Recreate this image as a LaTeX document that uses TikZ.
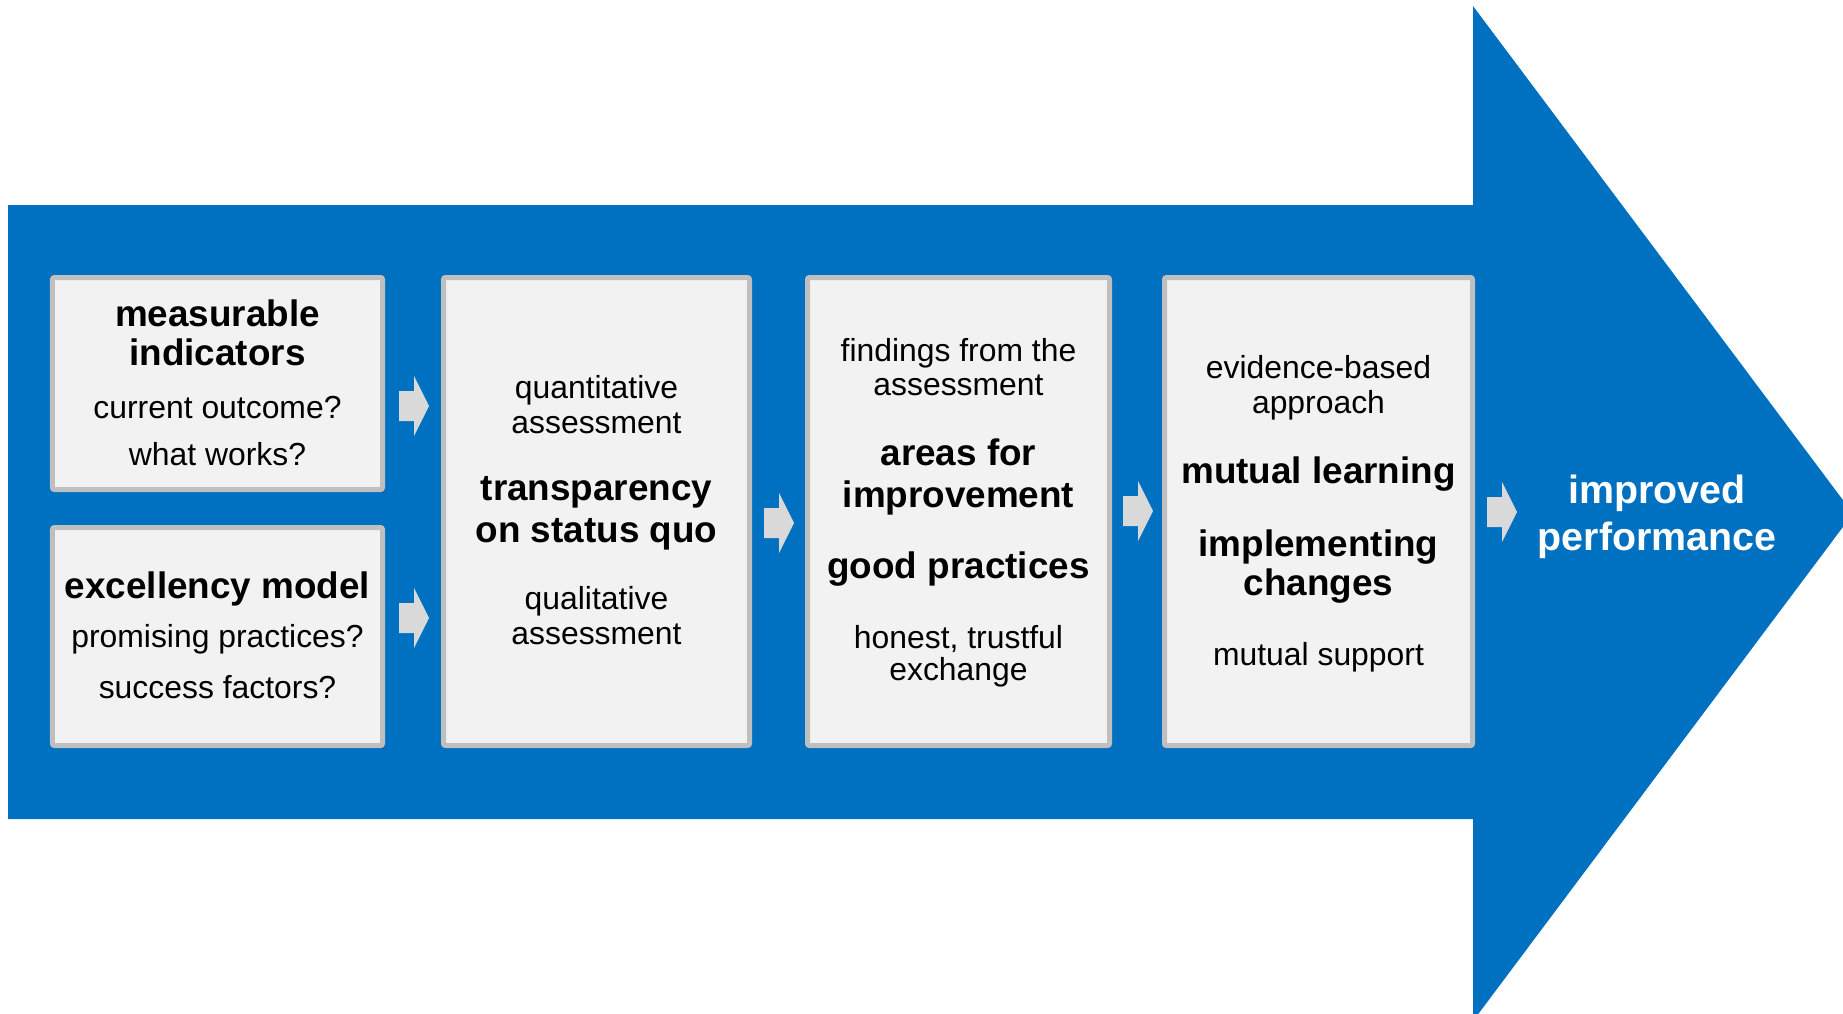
\documentclass[tikz,border=0pt]{standalone}
\usepackage{fontspec}
\setmainfont{Liberation Sans}
\definecolor{flowblue}{HTML}{0070C0}
\definecolor{panelfill}{HTML}{F2F2F2}
\definecolor{panelrim}{HTML}{BFBFBF}
\definecolor{stepgray}{HTML}{D9D9D9}

\tikzset{
  panel/.style={draw=panelrim, fill=panelfill, line width=5bp, rounded corners=2bp, inner sep=0pt},
  reg/.style={anchor=base, inner sep=0pt, font=\fontsize{32}{38}\selectfont},
  strong/.style={anchor=base, inner sep=0pt, font=\fontsize{37}{42}\selectfont\bfseries},
  result/.style={anchor=base, inner sep=0pt, text=white, font=\fontsize{39.5}{46}\selectfont\bfseries},
  pics/stepmark/.style={code={
    \fill[stepgray] (0,0) -- (-15,-30) -- (-15,-15) -- (-30,-15) -- (-30,15) -- (-15,15) -- (-15,30) -- cycle;}}
}

\begin{document}
\begin{tikzpicture}[x=1bp, y=-1bp]
\useasboundingbox (0,0) rectangle (1843,1013);

% big process arrow (its tip runs past the right edge)
\fill[flowblue] (8,205) -- (1473,205) -- (1473,6) -- (1853,513.5) -- (1473,1021) -- (1473,819) -- (8,819) -- cycle;

% panels
\node[panel, minimum width=330bp, minimum height=212bp] (ind) at (217.5,383.5) {};
\node[panel, minimum width=330bp, minimum height=218bp] (exc) at (217.5,636.5) {};
\node[panel, minimum width=306bp, minimum height=468bp] (tra) at (596.5,511.5) {};
\node[panel, minimum width=302bp, minimum height=468bp] (are) at (958.5,511.5) {};
\node[panel, minimum width=308bp, minimum height=468bp] (mut) at (1318.5,511.5) {};

% step markers
\pic at (429,406) {stepmark};
\pic at (429,618) {stepmark};
\pic at (794,523) {stepmark};
\pic at (1153,511) {stepmark};
\pic at (1517,512) {stepmark};

% panel 1
\node[strong] (t1a) at (217.5,326) {measurable};
\node[strong] (t1b) at (217.5,365) {indicators};
\node[reg]    (t1c) at (217.5,418) {current outcome?};
\node[reg]    (t1d) at (217.5,465) {what works?};

% panel 2
\node[strong] (t2a) at (217.5,598) {excellency model};
\node[reg]    (t2b) at (217.5,647) {promising practices?};
\node[reg]    (t2c) at (217.5,698) {success factors?};

% panel 3
\node[reg]    (t3a) at (596.5,398) {quantitative};
\node[reg]    (t3b) at (596.5,433) {assessment};
\node[strong] (t3c) at (596.5,500) {transparency};
\node[strong] (t3d) at (596.5,542) {on status quo};
\node[reg]    (t3e) at (596.5,609) {qualitative};
\node[reg]    (t3f) at (596.5,644) {assessment};

% panel 4
\node[reg]    (t4a) at (958.5,361) {findings from the};
\node[reg]    (t4b) at (958.5,395) {assessment};
\node[strong] (t4c) at (958.5,465) {areas for};
\node[strong] (t4d) at (958.5,507) {improvement};
\node[strong] (t4e) at (958.5,578) {good practices};
\node[reg]    (t4f) at (958.5,648) {honest, trustful};
\node[reg]    (t4g) at (958.5,680) {exchange};

% panel 5
\node[reg]    (t5a) at (1318.5,378) {evidence-based};
\node[reg]    (t5b) at (1318.5,413) {approach};
\node[strong] (t5c) at (1318.5,483) {mutual learning};
\node[strong] (t5d) at (1318.5,556) {implementing};
\node[strong] (t5e) at (1318.5,595) {changes};
\node[reg]    (t5f) at (1318.5,665) {mutual support};

% outcome
\node[result] (o1) at (1657,503) {improved};
\node[result] (o2) at (1657,550) {performance};
\end{tikzpicture}
\end{document}
